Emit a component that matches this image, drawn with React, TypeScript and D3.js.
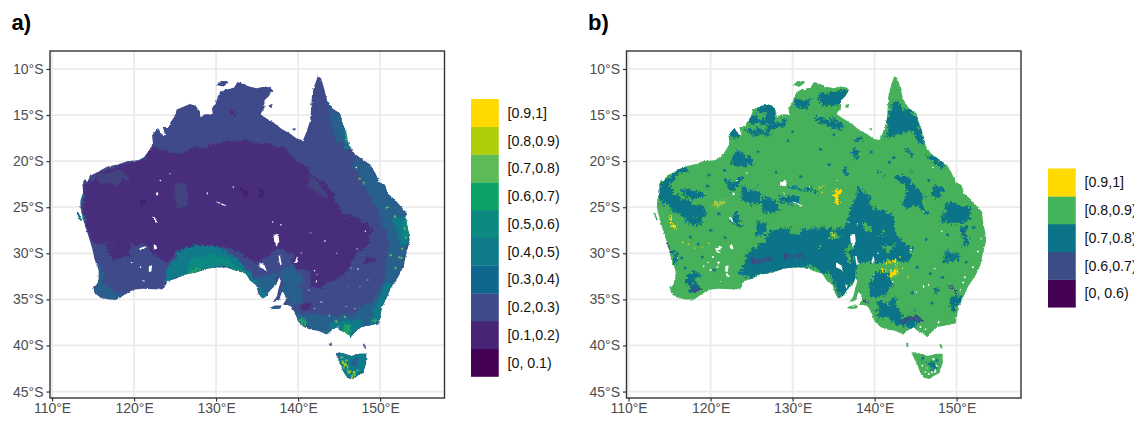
import React, { useEffect, useRef } from 'react';
import * as d3 from 'd3';

type Pt = [number, number];

const lonTicks = [110, 120, 130, 140, 150];
const latTicks = [-10, -15, -20, -25, -30, -35, -40, -45];
const lonDomain: Pt = [109.75, 157.85];
const latDomain: Pt = [-45.7, -8.05];

const classesA = ['[0, 0.1)', '[0.1,0.2)', '[0.2,0.3)', '[0.3,0.4)', '[0.4,0.5)', '[0.5,0.6)', '[0.6,0.7)', '[0.7,0.8)', '[0.8,0.9)', '[0.9,1]'];
const coloursA = ['#440154', '#482576', '#3e4a89', '#0f678f', '#0f7a8a', '#0c8a82', '#0ba366', '#5cbb58', '#b0cd0a', '#ffd900'];
const classesB = ['[0, 0.6)', '[0.6,0.7)', '[0.7,0.8)', '[0.8,0.9)', '[0.9,1]'];
const coloursB = ['#440154', '#3b4c87', '#0b7488', '#44b45c', '#ffd900'];

// coastline
const mainland: Pt[] = [
  [113.8, -26.3], [113.45, -25], [113.5, -24.2], [113.8, -23.4], [113.7, -22.6], [114, -21.9], [114.3, -22.3], [114.6, -21.6],
  [115.5, -21.2], [116.7, -20.6], [118.2, -20.3], [119.1, -20], [120.5, -19.9], [121.2, -19.6], [121.8, -18.9], [122.3, -18.1],
  [122.2, -17.2], [122.9, -16.4], [123.4, -17.1], [123.8, -17.2], [123.5, -16.3], [124.2, -16.3], [124.5, -15.7], [124.9, -15.2],
  [125.2, -14.4], [126, -14.1], [126.8, -13.8], [127.5, -14], [128, -14.6], [128.1, -15.3], [128.6, -14.9], [129.1, -14.9],
  [129.6, -15], [129.5, -14.3], [130, -13.6], [130.2, -13], [130.5, -12.5], [130.9, -12.3], [131.5, -12.2], [132.2, -12],
  [132.6, -11.4], [133.3, -11.6], [134, -11.9], [135, -12.1], [135.9, -11.9], [136.6, -12], [136.9, -12.3], [136.4, -13],
  [135.9, -13.4], [135.9, -14.2], [135.4, -14.9], [136.2, -15.4], [137, -15.8], [138, -16.5], [139, -17], [139.9, -17.6],
  [140.6, -17.7], [141, -16.9], [141.5, -15.5], [141.6, -14], [141.7, -12.8], [142, -11.8], [142.4, -10.8], [142.8, -11],
  [143.2, -12.2], [143.5, -13.3], [144.2, -14.3], [145.1, -14.8], [145.4, -15.8], [145.9, -17], [146.2, -18.3], [146.9, -19.2],
  [148, -19.9], [148.8, -20.4], [149.4, -21.3], [149.9, -22.3], [150.6, -22.6], [150.9, -23.5], [151.8, -24.2], [152.7, -25.1],
  [153.1, -25.5], [153.2, -26.5], [153.5, -27.8], [153.6, -28.7], [153.2, -30], [152.9, -31.3], [152.3, -32.4], [151.4, -33.6],
  [150.8, -34.8], [150.2, -35.9], [150, -37], [149.9, -37.6], [148.8, -37.8], [147.7, -38], [146.9, -38.6], [146.4, -39.1],
  [145.9, -38.7], [145.2, -38.4], [144.8, -38], [144, -38.4], [143.5, -38.8], [142.5, -38.4], [141.6, -38.3], [140.7, -38],
  [140, -37.4], [139.7, -36.6], [139.2, -35.8], [138.7, -35.6], [138.1, -35.6], [138.5, -35.1], [138.4, -34.5], [138, -34.2],
  [137.7, -35.1], [136.9, -35.3], [137.4, -34.7], [137.6, -33.9], [137.9, -33], [137.7, -32.6], [137.4, -33.3], [136.6, -34],
  [136.2, -34.6], [135.7, -34.9], [135.2, -34.5], [134.9, -33.5], [134.1, -32.9], [133.6, -32.2], [132.8, -32], [131.3, -31.55],
  [130, -31.55], [129, -31.65], [127.5, -32.1], [126.2, -32.3], [125, -32.8], [124.1, -33], [123.6, -33.9], [122.5, -33.9],
  [121, -33.85], [119.9, -33.95], [119, -34.4], [118, -35], [117, -35], [116, -34.85], [115.2, -34.3], [115, -33.6],
  [115.4, -33.5], [115.7, -32.8], [115.7, -31.8], [115.2, -30.7], [114.9, -29.5], [114.5, -28.3], [114.1, -27.2],
];
const tasmania: Pt[] = [
  [144.6, -40.7], [145.5, -40.85], [146.5, -41.15], [147.5, -40.9], [148.3, -40.9], [148.3, -41.9], [147.9, -43], [147.2, -43.3],
  [146.7, -43.65], [146, -43.5], [145.5, -42.8], [145.2, -42.1], [144.7, -41.2],
];
const islands: Pt[][] = [
  [[130, -11.8], [130.6, -11.3], [131.3, -11.3], [131.5, -11.5], [130.9, -11.9], [130.3, -11.8]],
  [[136.4, -13.9], [136.9, -13.8], [136.8, -14.2], [136.5, -14.2]],
  [[139.2, -16.5], [139.7, -16.4], [139.6, -16.7]],
  [[136.6, -35.9], [137.2, -35.65], [138, -35.65], [137.8, -36], [137, -36.05]],
  [[143.85, -39.7], [144.1, -39.7], [144.1, -40.1], [143.9, -40.1]],
  [[147.9, -39.8], [148.2, -39.95], [148.3, -40.4], [148, -40.2]],
  [[113, -25.6], [113.25, -25.6], [113.6, -26.5], [113.4, -26.4]],
];
const lakes: Pt[][] = [
  [[137, -28], [137.6, -27.9], [137.7, -28.7], [137.4, -29.3], [137.1, -28.8]],
  [[137.6, -30.2], [137.8, -30.3], [138, -31.2], [137.8, -31.3]],
  [[135.3, -31], [135.9, -31.3], [136.2, -32], [135.8, -31.7], [135.3, -31.5]],
  [[139.6, -30.9], [139.9, -30.3], [140, -30.9], [139.7, -31.1]],
  [[122.2, -26], [122.5, -26.1], [122.9, -26.7], [122.6, -26.6]],
  [[121.8, -31.4], [122.2, -31.3], [122.1, -32], [121.8, -32]],
  [[120.6, -29.5], [121.3, -29.2], [121.4, -29.4], [120.8, -29.7]],
  [[122.3, -29.2], [122.6, -29], [122.8, -29.5], [122.5, -29.6]],
  [[122.7, -23.4], [122.95, -23.4], [122.9, -23.7], [122.7, -23.7]],
  [[129.9, -24.4], [130.2, -24.4], [131.3, -24.8], [131, -24.85]],
  [[128.8, -23.4], [129, -23.4], [129, -23.7]],
];
const lakeDots: Pt[] = [
  [124.4, -21.4], [123.2, -22.1], [132.1, -22.8], [119.7, -31], [120.8, -31.5], [121.2, -33], [136.9, -26.6], [137.9, -26.9],
  [142, -31.9], [147.1, -20.7], [140.4, -30], [142.2, -33.1], [146, -33.6], [147.3, -31.7], [148.2, -27.6],
];

// left panel zones
const aPurple: Pt[][] = [
  [[121.7, -18.3], [124.6, -19.2], [128, -18.5], [132.1, -17.8], [136.2, -18.1], [138.2, -18.5], [140.2, -20.2], [142.3, -21.8],
    [144.3, -23.5], [144.8, -25], [148.4, -26.8], [149.2, -27.5], [148.4, -29], [147.3, -30], [145.5, -32.4], [142.7, -33.7], [141.5, -33.5],
    [141.5, -31.9], [139, -31.6], [139.4, -30], [137.4, -29.4], [135, -31.1], [132.1, -29.5], [128, -28.9], [124.8, -30.2], [124, -31.1],
    [120.7, -28.9], [115.9, -28.9], [114.4, -28.3], [113.8, -25.4], [113.8, -23.2], [115.5, -21.3], [118.7, -20.3], [120.7, -19.9]],
  [[131.6, -14.4], [132.6, -14.4], [132.5, -15], [131.7, -15]],
  [[148.2, -30.4], [149.3, -30.4], [149.2, -31.2], [148.2, -31.2]],
  [[140.3, -35.4], [141.8, -35.3], [141.6, -36.1], [140.4, -36.1]],
  [[116.5, -29], [119.5, -29], [119.5, -30.5], [117, -30.5]],
];
const aDark: Pt[][] = [
  [[133, -22.9], [133.7, -22.9], [133.6, -23.6], [133.1, -23.5]],
  [[135.1, -23], [135.7, -23.1], [135.6, -23.9], [135.2, -23.8]],
  [[120.7, -24.3], [121.6, -24.3], [121.5, -24.7], [120.8, -24.7]],
];
const aBlue: Pt[][] = [
  [[115.5, -21.5], [118.5, -20.9], [119.5, -22], [117, -22.5], [115.6, -22.5]],
  [[124.8, -22.4], [126.3, -22.4], [126.4, -25], [125.3, -24.8]],
  [[141.5, -21.5], [143.5, -23.6], [143, -24], [141.2, -22.5]],
];
const aMidBlue: Pt[][] = [
  [[143.5, -12.7], [144.3, -14.5], [145.1, -14.7], [146.3, -18.65], [144.8, -17.9], [143.9, -15.6]],
  [[147, -19.5], [149, -20.5], [150.5, -22.5], [153, -25], [153.6, -28], [153.2, -30.5], [151.6, -33.7], [150, -37.6], [146.4, -39.2],
    [143.5, -38.8], [140, -37.5], [139.2, -35.6], [140.2, -36.6], [142.3, -36.8], [146.3, -36.6], [149, -35.1], [150.5, -33], [151, -29.5],
    [150.8, -28], [149.5, -25], [148, -22.5], [146.5, -20.5]],
  [[137.8, -32], [139.5, -31], [140.5, -33], [140.6, -35.5], [139.2, -35.6], [138, -34]],
  [[134.5, -32.5], [137.5, -32.3], [137.4, -33.5], [136, -34.7], [135, -33.8]],
  [[115.2, -31], [116, -31.2], [116.2, -33.5], [118, -34.2], [119, -34.2], [117.5, -35], [116, -34.8], [115.2, -34.2]],
  [[136.5, -35.7], [138, -35.6], [138, -36.1], [136.5, -36.1]],
];
const aTeal: Pt[][] = [
  [[123.6, -33.2], [124, -31.5], [125.6, -29.7], [128, -29], [130.5, -29.3], [132.9, -30.8], [135, -33], [134.6, -33.7], [133.7, -32.4],
    [131.3, -31.5], [129.3, -31.6], [126.4, -32.2], [124.4, -33]],
  [[135, -33.5], [136, -34], [136.3, -34.9], [135.4, -34.9]],
  [[151.5, -26], [153.5, -26], [153.6, -29], [152.5, -29]],
  [[150.5, -33.5], [151.5, -33.5], [150.2, -36.3], [149.7, -37.8], [148.8, -37.6], [149.7, -35]],
  [[144, -37.4], [148, -37.2], [147, -39], [144, -38.6]],
  [[144.5, -40.6], [148.4, -40.7], [148.3, -43], [146.6, -43.8], [145, -42.6]],
  [[113.3, -23.9], [113.8, -23.9], [113.6, -25], [113.3, -25]],
  [[120.9, -19.4], [121.4, -19.4], [121.4, -19.9], [120.9, -19.9]],
  [[113, -25.6], [113.7, -25.6], [113.7, -26.6], [113, -26.6]],
  [[145.1, -15.2], [145.8, -15.2], [146.3, -18.5], [145.7, -18.5]],
];
const aSea: Pt[][] = [
  [[126.4, -32.1], [126.8, -30.8], [128.9, -30.1], [131.3, -30.6], [132.9, -31.7], [131.3, -31.5], [129.3, -31.6]],
  [[152.6, -26.4], [153.4, -26.4], [153.5, -28.4], [152.8, -28.4]],
];
const aGreen: Pt[][] = [
  [[126, -32.3], [127.8, -31.7], [128.5, -31.7], [126.6, -32.3]],
  [[132.1, -31.5], [133.3, -32], [133.4, -32.3], [132.6, -32]],
  [[139.9, -37], [140.9, -37.1], [141, -38], [140.2, -37.7]],
  [[145.6, -37.8], [146.4, -37.9], [146.6, -38.9], [145.7, -38.6]],
  [[149.2, -37.2], [149.9, -37.2], [149.9, -37.7], [149.2, -37.6]],
  [[143.3, -38.5], [143.8, -38.5], [143.6, -38.9]],
  [[145.6, -17], [145.9, -17], [146, -17.9], [145.7, -17.9]],
];
const aSpeckGreen: Pt[] = [
  [145.4, -41.7], [145.8, -42], [145.6, -42.4], [146, -42.6], [146.2, -43], [146.6, -43.3], [146.9, -43.1], [147.3, -42.7], [145.3, -41.3],
  [147.5, -21.9], [148, -22.3], [150.8, -25], [151.8, -26], [152.7, -29.5], [152.6, -30.5], [151.9, -31.6], [153, -27.3], [145.7, -36.9], [144.7, -37.4],
  [153.1, -28.3], [152.3, -30.4], [151.3, -30.2],
];
const aSpeckYellow: Pt[] = [
  [145.7, -42.1], [146, -42.3], [146.3, -42.8], [146.6, -43.5], [145.5, -41.9], [146.8, -42.9], [145.9, -41.6],
];
const aSpeckPale: Pt[] = [
  [142.3, -32.3], [141.3, -34], [142.9, -35.3], [143.8, -36.8], [142, -36], [145.9, -35.8], [146.9, -36], [147.6, -33.7],
  [144.7, -30], [147.2, -29.5], [143.2, -28.7], [141.5, -27.8], [145.8, -26.2], [148.5, -32.9], [146.5, -31.6],
];
const aTasBlue: Pt[][] = [[[146.5, -41.5], [147.4, -41.5], [147.3, -42.4], [146.5, -42.4]]];

// right panel zones
const bTeal: Pt[][] = [
  [[124.6, -15.4], [125.6, -14.5], [127.05, -13.8], [128.07, -14.67], [127.46, -15.94], [126.24, -16.2], [124.82, -16]],
  [[123.7, -16.6], [125.2, -16.7], [126.85, -16.5], [128.5, -15.2], [129.4, -15.3], [128.7, -16.3], [126.85, -17.1], [124.4, -17.1]],
  [[122.4, -17.2], [123, -16.5], [123.3, -17.4], [122.6, -17.6]],
  [[132.9, -12.9], [134.5, -12.6], [136.7, -12.1], [136.6, -13], [135.6, -14.1], [133.5, -14.2]],
  [[130.1, -13.5], [131.5, -13.1], [132.4, -13.5], [131, -14.2]],
  [[132.5, -15.2], [134, -15], [136.2, -16], [135.9, -16.4], [134, -16], [132.8, -15.9]],
  [[122.4, -19.7], [123.6, -19], [125.4, -20.3], [123.6, -20.5], [122.6, -20.3]],
  [[113.84, -22.09], [114.65, -22.28], [115.47, -23.54], [119.53, -25.35], [118.92, -26.99], [117.09, -26.8], [115.47, -25.35], [113.84, -24.27]],
  [[113.84, -21.9], [116.3, -20.8], [117.5, -20.8], [115.06, -22.1], [114.25, -22.8]],
  [[116.7, -23.2], [119, -23.3], [119, -24], [117, -24]],
  [[122, -22.1], [123.6, -22.1], [123.6, -22.8], [122.1, -22.8]],
  [[122.4, -25.4], [123.2, -25.4], [123.6, -27], [122.8, -27]],
  [[123.6, -23], [126, -23], [126, -24.5], [124.4, -24.6]],
  [[126, -24.3], [128, -24.2], [128.6, -25.5], [126.4, -25.6]],
  [[128.7, -23.7], [130.9, -24.2], [130.9, -24.8], [128.9, -24.8]],
  [[125.6, -26.6], [126.8, -26.6], [126.9, -28], [125.7, -28.2]],
  [[130, -22.9], [133.3, -23], [133.2, -23.3], [130, -23.3]],
  [[123.2, -32.2], [124.4, -30.07], [126.4, -28.6], [128.5, -27], [130.9, -27.5], [134.6, -27], [137.2, -27.5], [137.8, -31.16],
    [137.8, -32.97], [135.8, -34.8], [134.6, -32.6], [132.5, -31.5], [130.1, -31.6], [126.8, -32.1], [124.8, -32.6]],
  [[138, -23], [139, -23.2], [139.45, -24.8], [140.46, -25.35], [141.9, -25.7], [142.1, -27.5], [144.7, -29.7], [144.3, -30.8],
    [141.3, -30.8], [138.2, -31.2], [137.4, -30.8], [137, -28.6], [135, -27.9], [137, -25.4]],
  [[139.65, -32.2], [142.1, -32], [142.3, -33.7], [141.5, -34.8], [139.45, -34.4]],
  [[140.06, -35.5], [142.7, -35], [143.1, -36.4], [145.5, -37.3], [144.3, -38.4], [141.9, -37.3], [140.26, -36.8]],
  [[141.7, -14.5], [142.9, -13.6], [143.5, -14.5], [144.5, -14.5], [145.55, -15.9], [146, -18.1], [145, -16.8], [143.5, -16.5], [141.1, -17.6], [141.5, -15.9]],
  [[142.5, -21.7], [144.3, -21.2], [145.5, -23.5], [146.8, -25.7], [146, -25.7], [143.5, -24.6], [143.9, -23.5], [143.1, -22.5]],
  [[147, -22.6], [148.2, -22.6], [148.2, -23.9], [147, -23.9]],
  [[147.9, -25.8], [149.6, -24.2], [151.6, -24.8], [151.6, -26.6], [149.6, -26.8], [148.2, -26.8]],
  [[150.6, -27.2], [151.6, -27.2], [151.6, -29.4], [150.9, -29.4]],
  [[137.2, -18.8], [138.2, -18.8], [138.2, -19.8], [137.2, -19.8]],
  [[136, -20.8], [136.8, -20.8], [136.8, -21.6], [136, -21.6]],
  [[140.5, -21.2], [141, -21.2], [141, -21.8]],
  [[137.4, -17.4], [138.4, -17.4], [138.4, -18], [137.4, -18]],
  [[143.7, -18.8], [144.3, -18.8], [144.3, -19.7]],
  [[144.5, -16.7], [146, -16.7], [146, -18.1], [145, -18]],
  [[146.6, -19.2], [148.6, -20.3], [148.6, -20.7], [146.8, -19.8]],
  [[148.4, -29.7], [150, -29.7], [150, -30.8], [148.4, -30.8]],
  [[149.4, -34.4], [150.4, -34.6], [150.2, -36.4], [149.5, -36.4]],
  [[115, -30], [115.8, -30], [115.9, -31.2], [115.3, -31.2]],
  [[117.3, -32.2], [118.7, -32.2], [118.7, -33.9], [117.3, -33.9]],
  [[146.2, -41.7], [147.2, -41.7], [147.1, -42.4], [146.3, -42.4]],
  [[144.6, -36], [145.2, -36], [145.2, -36.4]],
  [[147.4, -33.8], [148, -33.8], [147.9, -34.4]],
];
const bGreenOver: Pt[][] = [
  [[134.6, -27.5], [135.5, -27.5], [135.6, -28.4], [134.7, -28.4]],
  [[138.5, -26.5], [139.2, -26.5], [139.5, -27.5], [138.8, -27.5]],
  [[129.5, -27.5], [131, -27.2], [130.9, -27.8]],
  [[125.2, -15], [126.6, -14.6], [126.5, -15.3]],
  [[141.2, -29.1], [142.2, -29.1], [142.2, -29.8], [141.2, -29.8]],
  [[136.5, -29.4], [137, -29.4], [137, -31], [136.5, -31]],
  [[143.2, -36], [144.2, -36], [144.2, -36.7], [143.2, -36.7]],
  [[140.5, -27.4], [141.1, -27.4], [141.1, -28.1]],
  [[117.8, -25.6], [118.3, -25.6], [118.2, -26.1]],
  [[133, -29], [133.5, -29], [133.4, -29.4]],
];
const bBlue: Pt[][] = [
  [[124.8, -30.4], [127.6, -30.5], [127.6, -30.9], [125, -31.1]],
  [[129.3, -30.2], [131.3, -30.3], [131.3, -30.6], [129.3, -30.6]],
  [[117.7, -33.5], [118.5, -33.5], [118.7, -34.1], [117.8, -34.1]],
  [[142.9, -36.9], [145.5, -36.9], [145.5, -37.4], [142.9, -37.4]],
  [[151, -28], [151.5, -28], [151.5, -28.9]],
  [[149, -33.3], [149.6, -33.3], [149.7, -34.6]],
  [[113, -25.6], [113.7, -26.5], [113.3, -26.5]],
  [[113.5, -24], [113.8, -25], [113.6, -25]],
  [[114.7, -28.8], [115.1, -28.8], [115.4, -30.2], [115.1, -30.2]],
  [[138.2, -34.7], [138.6, -34.7], [138.6, -35.3]],
];
const bYellow: Pt[][] = [
  [[134.9, -23.2], [135.8, -23], [135.9, -24.5], [135.2, -24.7]],
  [[133.4, -22.5], [133.8, -22.5], [133.7, -22.9]],
  [[135.3, -21.9], [135.7, -22], [135.5, -22.3]],
  [[115.1, -26.2], [115.5, -26.2], [115.5, -27.3], [115.2, -27.3]],
  [[141.3, -31], [142.7, -31.1], [142.6, -31.35], [141.4, -31.3]],
  [[140.5, -31.8], [141.3, -31.9], [141.2, -32.1], [140.5, -32]],
  [[142.1, -31.9], [142.9, -32], [142.8, -32.4], [142.2, -32.3]],
];
const bOlive: Pt[][] = [
  [[120.3, -24.2], [122, -24.3], [122, -24.8], [120.5, -24.8]],
  [[131.6, -12], [132, -12], [131.8, -11.6]],
  [[134.7, -27.6], [135.3, -27.6], [135.3, -28.2]],
];
const bHoles: Pt[][] = [
  [[128.5, -22.2], [129.3, -22.1], [129.2, -22.7], [128.5, -22.7]],
  [[136.4, -33.4], [136.7, -33.4], [136.6, -33.9]],
  [[120.6, -29.5], [121.3, -30], [120.7, -29.9]],
  [[121.9, -32], [122.4, -32.6], [121.9, -32.5]],
];
const bSpeckWhite: Pt[] = [
  [146.2, -42.9], [146.6, -43.1], [147, -42.9], [146.4, -42.4], [145.8, -42.2], [147.2, -41.5], [147.6, -42.2], [147.4, -42.8],
  [150.5, -34], [151, -32.6], [152, -31.5], [146.3, -38.2], [145.6, -38], [120.3, -30.4], [121, -31], [120, -31.8], [119.2, -31.4],
  [152.6, -29.8], [153, -28.4], [150.8, -33.2], [144.4, -29.6], [145, -34.2], [146.6, -33.4], [147.8, -37.5],
];
const bSpeckTeal: Pt[] = [
  [119.8, -21.5], [121.7, -21], [125.8, -19], [129.4, -17.8], [131, -21.7], [134.5, -20.4], [128, -21.2], [119.6, -22.7], [121, -25.7],
  [120, -27.5], [121.7, -28.3], [118.5, -29], [117.5, -28.2], [116.5, -30.5], [116.9, -31.6], [119, -30.4], [120.5, -31.8],
  [139.6, -19], [142.3, -19.6], [141.8, -20.1], [146.6, -22.1], [148.9, -28], [146.3, -28.5], [145.2, -31.5], [146.8, -32.2], [148.3, -32.6],
  [144.6, -34.3], [147, -35.4], [151.2, -31], [152.1, -27.2], [133.4, -18.7], [130, -16.8], [135, -17.1], [147.6, -41.6], [145.9, -41.4],
];
const bSpeckYellow: Pt[] = [
  [116.6, -28.8], [117.3, -29], [118.1, -29.4], [119, -29.3], [119.8, -28.9], [116, -30.5], [143.1, -30.4], [144.1, -32.6], [139.9, -32.3],
  [143.4, -31.6], [141.6, -32.5], [133.6, -23.4],
];

const landParts = [mainland, tasmania, ...islands];
const outerWidth = 1134;
const outerHeight = 421;
const panelWidth = 394.5;
const panelTop = 51;
const panelBottom = 398;
const boxSize = 27.75;

const toPath = (scaleX: d3.ScaleLinear<number, number>, scaleY: d3.ScaleLinear<number, number>) =>
  d3.line<Pt>().x((d) => scaleX(d[0])).y((d) => scaleY(d[1])).curve(d3.curveLinearClosed);

function drawPanel(node: SVGGElement, opts: any) {
  const root = d3.select(node);
  root.selectAll('*').remove();

  const x = d3.scaleLinear().domain(lonDomain).range([opts.left, opts.left + panelWidth]);
  const y = d3.scaleLinear().domain(latDomain).range([panelBottom, panelTop]);
  const path = toPath(x, y);

  // grid first
  root.selectAll('line.gv').data(lonTicks).enter().append('line').attr('class', 'gv')
    .attr('x1', (d) => x(d)).attr('x2', (d) => x(d)).attr('y1', panelTop).attr('y2', panelBottom)
    .attr('stroke', '#ebebeb').attr('stroke-width', 1.8);
  root.selectAll('line.gh').data(latTicks).enter().append('line').attr('class', 'gh')
    .attr('y1', (d) => y(d)).attr('y2', (d) => y(d)).attr('x1', opts.left).attr('x2', opts.left + panelWidth)
    .attr('stroke', '#ebebeb').attr('stroke-width', 1.8);

  const clipId = 'land-' + opts.id;
  root.append('clipPath').attr('id', clipId)
    .selectAll('path').data(landParts).enter().append('path').attr('d', (d) => path(d));

  const fuzzy = root.append('g').attr('filter', 'url(#coastFuzz)');
  const land = fuzzy.append('g').attr('clip-path', 'url(#' + clipId + ')');
  land.append('rect').attr('x', opts.left).attr('y', panelTop).attr('width', panelWidth)
    .attr('height', panelBottom - panelTop).attr('fill', opts.base);

  const zones = land.append('g').attr('filter', 'url(#' + opts.zoneFilter + ')');
  opts.layers.forEach((layer: any) => {
    zones.append('g').selectAll('path').data(layer.shapes).enter().append('path')
      .attr('d', (d: any) => path(d)).attr('fill', layer.fill);
  });
  opts.dots.forEach((layer: any) => {
    land.append('g').selectAll('circle').data(layer.points).enter().append('circle')
      .attr('cx', (d: any) => x(d[0])).attr('cy', (d: any) => y(d[1])).attr('r', layer.r).attr('fill', layer.fill);
  });
  land.append('g').selectAll('path').data(opts.holes).enter().append('path')
    .attr('d', (d: any) => path(d)).attr('fill', '#fff');
  land.append('g').selectAll('circle').data(lakeDots).enter().append('circle')
    .attr('cx', (d) => x(d[0])).attr('cy', (d) => y(d[1])).attr('r', 0.8).attr('fill', '#fff');

  root.append('rect').attr('x', opts.left).attr('y', panelTop).attr('width', panelWidth)
    .attr('height', panelBottom - panelTop).attr('fill', 'none').attr('stroke', '#333').attr('stroke-width', 1.4);

  const xAxis = root.append('g').attr('transform', 'translate(0,' + panelBottom + ')')
    .call(d3.axisBottom(x).tickValues(lonTicks).tickSize(3.5).tickPadding(2).tickFormat((d) => d + '°E') as any);
  const yAxis = root.append('g').attr('transform', 'translate(' + opts.left + ',0)')
    .call(d3.axisLeft(y).tickValues(latTicks).tickSize(3.5).tickPadding(3).tickFormat((d) => Math.abs(+d) + '°S') as any);
  [xAxis, yAxis].forEach((axis) => {
    axis.select('.domain').remove();
    axis.selectAll('line').attr('stroke', '#333').attr('stroke-width', 1.2);
    axis.selectAll('text').attr('fill', '#4d4d4d')
      .style('font-family', '"Liberation Sans", sans-serif').style('font-size', '14px');
  });

  // legend, top box is the last class
  const legend = root.append('g').attr('transform', 'translate(' + opts.legendX + ',' + opts.legendTop + ')');
  const count = opts.classes.length;
  const rowY = d3.scaleBand<number>().domain(d3.range(count)).range([count * boxSize, 0]);
  legend.selectAll('rect').data(opts.colours).enter().append('rect')
    .attr('x', 0).attr('y', (_, i) => rowY(i) as number).attr('width', boxSize).attr('height', boxSize + 0.3)
    .attr('fill', (d: any) => d);
  legend.selectAll('text').data(opts.classes).enter().append('text')
    .attr('x', boxSize + 8.8).attr('y', (_, i) => (rowY(i) as number) + boxSize / 2).attr('dy', '.36em')
    .attr('fill', '#111').style('font-family', '"Liberation Sans", sans-serif').style('font-size', '14.2px')
    .text((d: any) => d);

  root.append('text').attr('x', opts.left - 38.5).attr('y', 30).attr('fill', '#000')
    .style('font-family', '"Liberation Sans", sans-serif').style('font-size', '22px').style('font-weight', 'bold')
    .text(opts.title);
}

export default function App() {
  const panelA = useRef<SVGGElement>(null);
  const panelB = useRef<SVGGElement>(null);

  useEffect(() => {
    if (panelA.current) {
      drawPanel(panelA.current, {
        id: 'a', left: 50, title: 'a)', base: coloursA[2], zoneFilter: 'zoneFuzzA',
        classes: classesA, colours: coloursA, legendX: 471, legendTop: 99,
        layers: [
          { shapes: aPurple, fill: '#472d7b' },
          { shapes: aDark, fill: '#3f1f6b' },
          { shapes: aBlue, fill: '#41447f' },
          { shapes: aMidBlue, fill: '#27608c' },
          { shapes: aTeal, fill: coloursA[4] },
          { shapes: aSea, fill: coloursA[5] },
          { shapes: aGreen, fill: '#1ea368' },
          { shapes: aTasBlue, fill: '#2a5a8e' },
        ],
        dots: [
          { points: aSpeckPale, fill: '#a99cc9', r: 0.8 },
          { points: aSpeckGreen, fill: coloursA[7], r: 1.2 },
          { points: aSpeckYellow, fill: coloursA[8], r: 1.3 },
        ],
        holes: lakes,
      });
    }
    if (panelB.current) {
      drawPanel(panelB.current, {
        id: 'b', left: 626.5, title: 'b)', base: '#47b05a', zoneFilter: 'zoneFuzzB',
        classes: classesB, colours: coloursB, legendX: 1048, legendTop: 168.5,
        layers: [
          { shapes: bTeal, fill: coloursB[2] },
          { shapes: bGreenOver, fill: '#47b05a' },
          { shapes: bBlue, fill: coloursB[1] },
          { shapes: bOlive, fill: '#a8c83c' },
          { shapes: bYellow, fill: coloursB[4] },
        ],
        dots: [
          { points: bSpeckTeal, fill: coloursB[2], r: 1.5 },
          { points: bSpeckYellow, fill: '#d8d21e', r: 0.9 },
          { points: bSpeckWhite, fill: '#fff', r: 1 },
        ],
        holes: [...lakes, ...bHoles],
      });
    }
  }, []);

  return (
    <svg width={outerWidth} height={outerHeight} style={{ position: 'absolute', left: 0, top: 0, background: '#fff' }}>
      <defs>
        <filter id="coastFuzz" filterUnits="userSpaceOnUse" x="0" y="0" width={outerWidth} height={outerHeight} colorInterpolationFilters="sRGB">
          <feTurbulence type="fractalNoise" baseFrequency="0.35" numOctaves="2" seed="3" result="n" />
          <feDisplacementMap in="SourceGraphic" in2="n" scale="2.5" xChannelSelector="R" yChannelSelector="G" />
          <feGaussianBlur stdDeviation="0.45" />
        </filter>
        <filter id="zoneFuzzA" filterUnits="userSpaceOnUse" x="0" y="0" width={outerWidth} height={outerHeight} colorInterpolationFilters="sRGB">
          <feTurbulence type="fractalNoise" baseFrequency="0.1" numOctaves="2" seed="7" result="n1" />
          <feDisplacementMap in="SourceGraphic" in2="n1" scale="8" xChannelSelector="R" yChannelSelector="G" result="d1" />
          <feTurbulence type="fractalNoise" baseFrequency="0.6" numOctaves="2" seed="9" result="n2" />
          <feDisplacementMap in="d1" in2="n2" scale="6" xChannelSelector="G" yChannelSelector="R" />
        </filter>
        <filter id="zoneFuzzB" filterUnits="userSpaceOnUse" x="0" y="0" width={outerWidth} height={outerHeight} colorInterpolationFilters="sRGB">
          <feTurbulence type="fractalNoise" baseFrequency="0.08" numOctaves="3" seed="11" result="n1" />
          <feDisplacementMap in="SourceGraphic" in2="n1" scale="14" xChannelSelector="R" yChannelSelector="G" result="d1" />
          <feTurbulence type="fractalNoise" baseFrequency="0.4" numOctaves="2" seed="5" result="n2" />
          <feDisplacementMap in="d1" in2="n2" scale="8" xChannelSelector="G" yChannelSelector="R" />
        </filter>
      </defs>
      <g ref={panelA} />
      <g ref={panelB} />
    </svg>
  );
}
